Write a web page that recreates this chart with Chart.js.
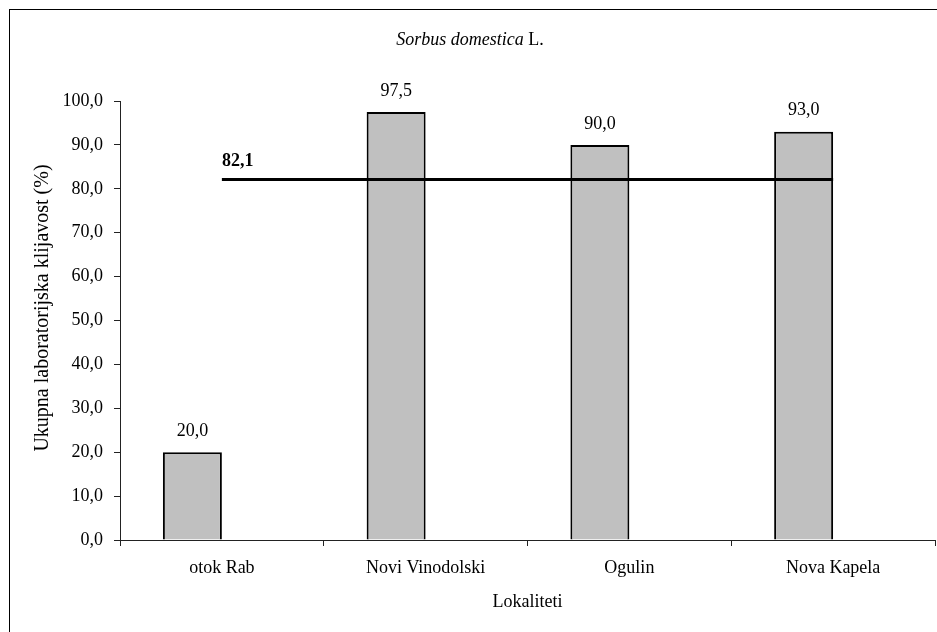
<!DOCTYPE html>
<html>
<head>
<meta charset="utf-8">
<title>Sorbus domestica L.</title>
<script src="https://cdn.jsdelivr.net/npm/chart.js@4.4.1/dist/chart.umd.min.js"></script>
<style>
  html, body { margin: 0; padding: 0; background: #fff; }
  #wrap { width: 937px; height: 632px; }
</style>
</head>
<body>
<div id="wrap"><canvas id="germChart" width="937" height="632"></canvas></div>
<script>
// ===== data =====
const categories = ['otok Rab', 'Novi Vinodolski', 'Ogulin', 'Nova Kapela'];
const germination = [20.0, 97.5, 90.0, 93.0];   // total lab germination (%)
const meanLine = [82.1, 82.1, 82.1, 82.1];      // average over all sites
const yMin = 0;
const yMax = 100;
const yStep = 10;
// ====================================

const SERIF = '"Liberation Serif", "Times New Roman", serif';
const fmt = v => Number(v).toFixed(1).replace('.', ',');

// frame, title, y-axis title and the value labels
const decorations = {
    id: 'decorations',
    beforeDraw(chart) {
        const c = chart.ctx;
        c.save();
        c.fillStyle = '#fff';
        c.fillRect(0, 0, chart.width, chart.height);
        c.strokeStyle = '#000';
        c.lineWidth = 1;
        c.strokeRect(9.5, 9.5, 960, 660);
        c.restore();
    },
    afterDraw(chart) {
        const c = chart.ctx;
        c.save();
        c.fillStyle = '#000';
        c.textBaseline = 'middle';

        // title: italic species name + plain author
        const a = 'Sorbus domestica';
        const b = ' L.';
        c.font = 'italic 18px ' + SERIF;
        const wa = c.measureText(a).width;
        c.font = '18px ' + SERIF;
        const wb = c.measureText(b).width;
        let x0 = 470 - (wa + wb) / 2;
        c.textAlign = 'left';
        c.font = 'italic 18px ' + SERIF;
        c.fillText(a, x0, 40);
        c.font = '18px ' + SERIF;
        c.fillText(b, x0 + wa, 40);

        // y axis title
        c.save();
        c.translate(43, 308);
        c.rotate(-Math.PI / 2);
        c.textAlign = 'center';
        c.font = '20px ' + SERIF;
        c.fillText('Ukupna laboratorijska klijavost (%)', 0, 0);
        c.restore();

        // values above bars
        c.textAlign = 'center';
        c.font = '18px ' + SERIF;
        chart.getDatasetMeta(1).data.forEach((bar, i) => {
            c.fillText(fmt(germination[i]), bar.x, bar.y - 21);
        });

        // mean label
        const p0 = chart.getDatasetMeta(0).data[0];
        c.textAlign = 'left';
        c.font = 'bold 18px ' + SERIF;
        c.fillText(fmt(meanLine[0]), p0.x, p0.y - 18);
        c.restore();
    }
};

const ctx = document.getElementById('germChart').getContext('2d');

new Chart(ctx, {
    data: {
        labels: categories,
        datasets: [
            {
                type: 'line',
                label: 'Prosjek',
                data: meanLine,
                borderColor: '#000',
                borderWidth: 3,
                pointRadius: 0,
                tension: 0,
                order: 0
            },
            {
                type: 'bar',
                label: 'Klijavost',
                data: germination,
                backgroundColor: '#C0C0C0',
                borderColor: '#000',
                borderWidth: 2,
                categoryPercentage: 0.579,
                barPercentage: 1,
                order: 1
            },
            {
                // empty second series of the cluster, as in the original sheet
                type: 'bar',
                label: '',
                data: [null, null, null, null],
                categoryPercentage: 0.579,
                barPercentage: 1,
                order: 1
            }
        ]
    },
    options: {
        responsive: false,
        animation: false,
        devicePixelRatio: 1,
        layout: { padding: { top: 101, left: 0, right: 2, bottom: 0 } },
        plugins: {
            legend: { display: false },
            tooltip: { enabled: false },
            title: { display: false }
        },
        scales: {
            x: {
                offset: true,
                grid: {
                    offset: true,
                    drawOnChartArea: false,
                    drawTicks: true,
                    tickLength: 6,
                    color: '#222'
                },
                border: { display: true, color: '#222', width: 1 },
                ticks: { color: '#000', padding: 11, font: { family: SERIF, size: 18 } },
                title: {
                    display: true,
                    text: 'Lokaliteti',
                    color: '#000',
                    font: { family: SERIF, size: 18 },
                    padding: { top: 0, bottom: 19 }
                },
                afterFit: s => { s.height = 92; }
            },
            y: {
                min: yMin,
                max: yMax,
                grid: {
                    drawOnChartArea: false,
                    drawTicks: true,
                    tickLength: 6,
                    color: '#222'
                },
                border: { display: true, color: '#222', width: 1 },
                ticks: {
                    stepSize: yStep,
                    autoSkip: false,
                    color: '#000',
                    padding: 11,
                    font: { family: SERIF, size: 18 },
                    callback: v => fmt(v)
                },
                afterFit: s => { s.width = 120; }
            }
        }
    },
    plugins: [decorations]
});
</script>
</body>
</html>
